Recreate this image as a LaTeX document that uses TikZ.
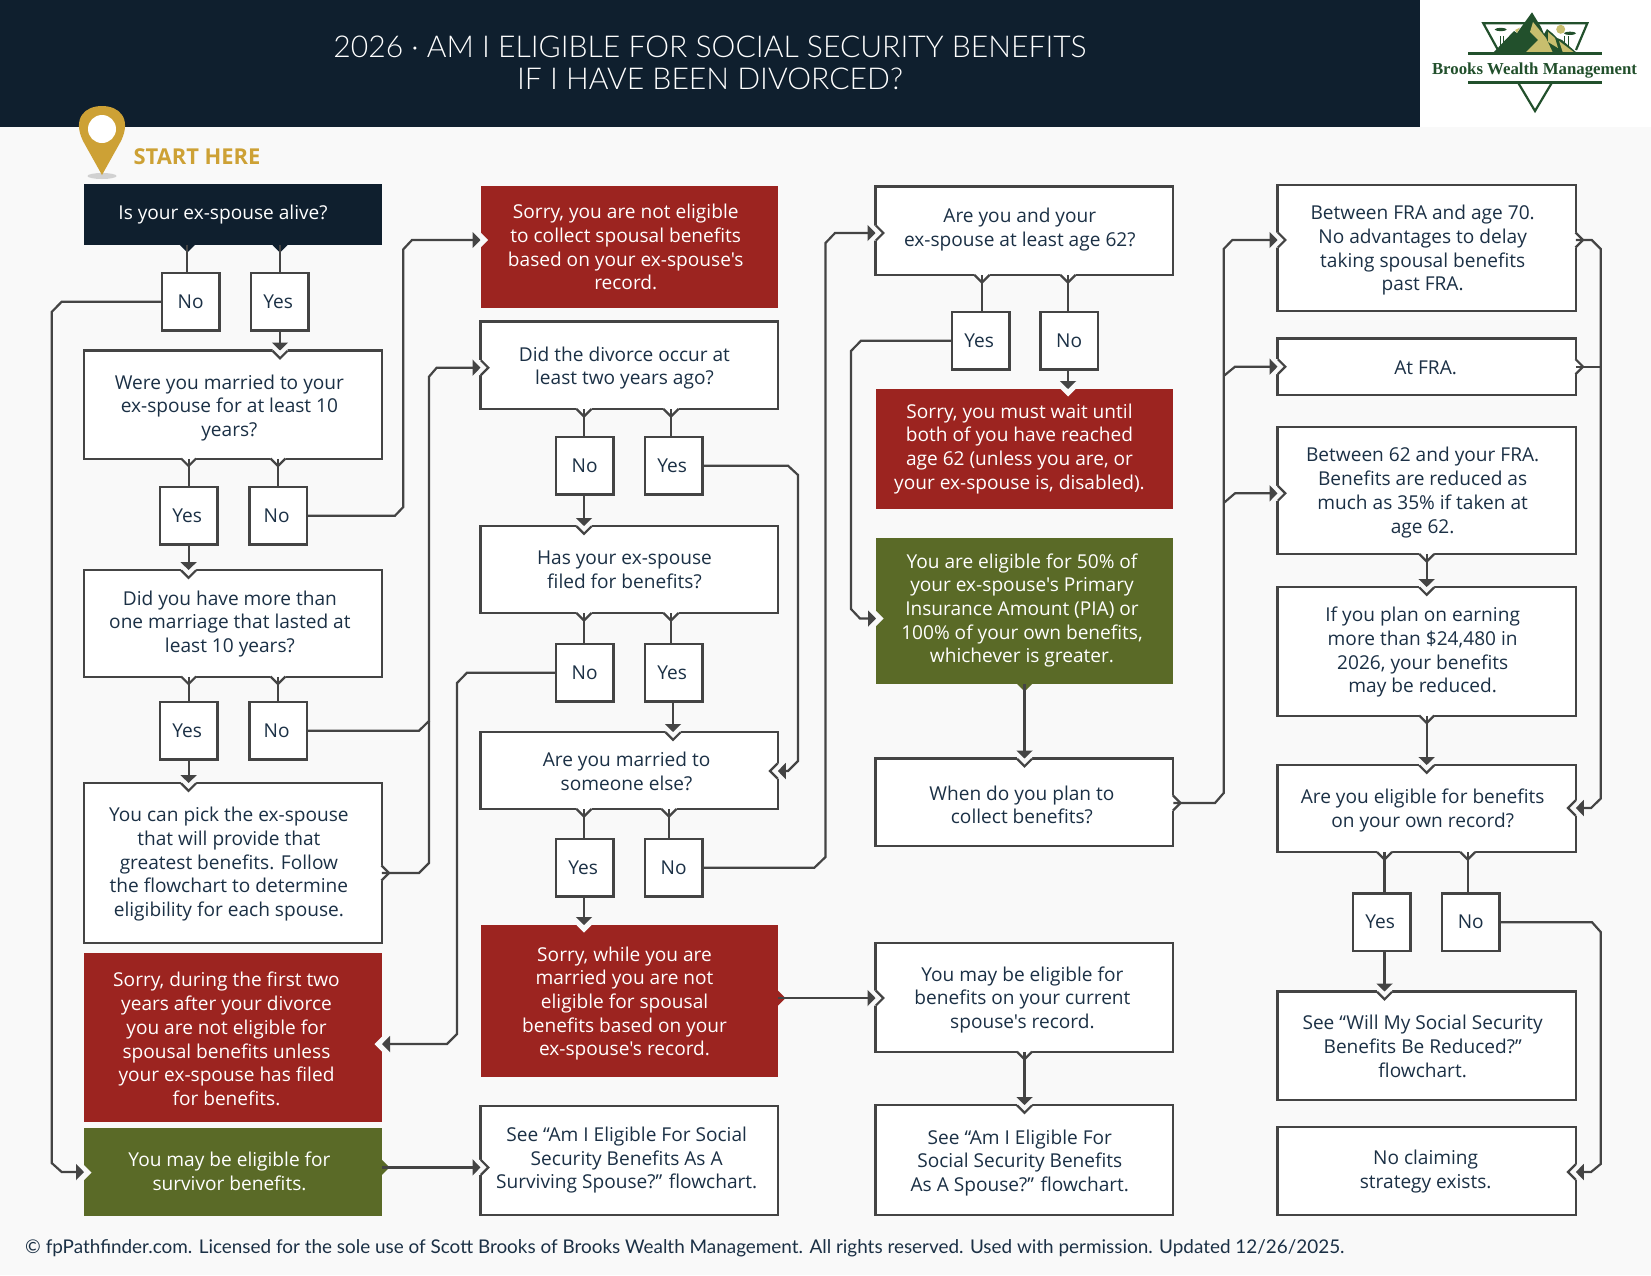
\documentclass[tikz,border=0pt]{standalone}
\usepackage{fontspec}
\usetikzlibrary{arrows.meta,calc}
\newfontfamily\bodyfont{Open Sans}
\newfontfamily\titlefont{Lato Light}
\newfontfamily\footfont{Lato}
\newfontfamily\logofont{Liberation Serif}
\definecolor{navy}{HTML}{0F1F2E}
\definecolor{pagebg}{HTML}{F9F9F9}
\definecolor{brick}{HTML}{9C2420}
\definecolor{olive}{HTML}{5A6A27}
\definecolor{gold}{HTML}{CDA135}
\definecolor{edge}{HTML}{444444}
\definecolor{ink}{HTML}{1B3045}
\definecolor{pine}{HTML}{22502C}
\definecolor{sand}{HTML}{C8BE6E}
\tikzset{
 x=1pt,y=-1pt,
 base/.style={rectangle,outer sep=0pt,inner sep=0pt,font=\bodyfont\fontsize{19.1}{23.7}\selectfont},
 plainbox/.style={base,draw=edge,line width=2.2pt,fill=white,text=ink},
 darkbox/.style={base,fill=navy,text=white},
 redbox/.style={base,fill=brick,text=white},
 greenbox/.style={base,fill=olive,text=white},
 conn/.style={draw=edge,line width=2.2pt},
 arr/.style={conn,-{Triangle[length=8pt,width=16pt]}},
 thick conn/.style={line width=3.2pt},
}
\newcommand\bx[9]{%
 \pgfmathsetmacro\bxw{#5-#3}\pgfmathsetmacro\bxh{#6-#4}%
 \pgfmathsetmacro\bxcx{(#3+#5)/2}\pgfmathsetmacro\bxcy{(#4+#6)/2}%
 \pgfmathsetlengthmacro\bxk{2*(#7)}\pgfmathsetlengthmacro\bxr{-(#8)-7}%
 \node[#2,minimum width=\bxw pt,minimum height=\bxh pt] (#1) at (\bxcx,\bxcy)
  {\smash{\raisebox{\bxr}{\makebox[0pt]{\kern\bxk\begin{tabular}{@{}c@{}}#9\end{tabular}}}}};}
\newcommand\ans[5]{\bx{#1}{plainbox}{#2+1.2}{#3+1.2}{#2+56.2}{#3+56.2}{#4}{0}{#5}}
% plain box: inset a little so the stroke's outer edge falls on the measured edge
\newcommand\pb[8]{\bx{#1}{plainbox}{#2+.3}{#3+.3}{#4-1}{#5-1}{#6}{#7}{#8}}
\newcommand\nch[6]{%
 \fill[#5] ({#1+7.5*(#4)-1.6*(#3)},{#2+7.5*(#3)-1.6*(#4)}) -- ({#1+7.5*(#4)},{#2+7.5*(#3)}) -- ({#1+7.5*(#3)},{#2+7.5*(#4)}) -- ({#1-7.5*(#4)},{#2-7.5*(#3)}) -- ({#1-7.5*(#4)-1.6*(#3)},{#2-7.5*(#3)-1.6*(#4)}) -- cycle;
 \path[#6] ({#1+7.5*(#4)},{#2+7.5*(#3)}) -- ({#1+7.5*(#3)},{#2+7.5*(#4)}) -- ({#1-7.5*(#4)},{#2-7.5*(#3)});}
\newcommand\inW[4]{\nch{#1}{#2}{#3}{#4}{pagebg}{draw=edge,line width=2.2pt}}
\newcommand\ouW[4]{\nch{#1}{#2}{#3}{#4}{white}{draw=edge,line width=2.2pt}}
\newcommand\inF[4]{\nch{#1}{#2}{#3}{#4}{pagebg}{}}
\newcommand\ouF[5]{\nch{#1}{#2}{#3}{#4}{#5}{}}
\begin{document}
\begin{tikzpicture}
\useasboundingbox (0,0) rectangle (1651,1275);
\fill[pagebg] (0,0) rectangle (1651,1275);
\fill[navy] (0,0) rectangle (1420,127);
\fill[white] (1420,0) rectangle (1651,127);
\node[text=white,align=center,font=\titlefont\fontsize{30.1}{32}\selectfont] (title) at (710,63) {2026 · AM I ELIGIBLE FOR SOCIAL SECURITY BENEFITS\\IF I HAVE BEEN DIVORCED?};
% logo
\draw[pine,line width=2.2pt] (1498,50) -- (1483.3,23.3) -- (1587.3,23.3) -- (1576,50);
\fill[sand] (1560.7,29.3) circle (4.5);
\fill[pine] (1500.7,29.5) ellipse (6 and 1.6);
\fill[pine] (1570,33.3) ellipse (6 and 1.6);
\draw[pine,line width=1pt] (1500,36) -- (1500,46) (1503,36) -- (1503,46) (1564,36) -- (1564,46) (1568,36) -- (1568,46);
\fill[pine] (1493,53) -- (1514,31) -- (1517,33) -- (1532,12.3) -- (1541,27) -- (1544,34) -- (1547,29) -- (1552,33) -- (1557,38) -- (1562,40) -- (1577,53) -- cycle;
\fill[sand] (1533,22) -- (1546,38) -- (1553,53) -- (1525,53) -- (1535,43) -- (1538,40) -- (1530,32) -- cycle;
\fill[sand] (1548,32) -- (1555,38) -- (1558,48) -- (1548,42) -- cycle;
\fill[sand] (1559,41) -- (1575,53) -- (1563,53) -- cycle;
\fill[sand] (1515,30) -- (1520,27.5) -- (1517,33) -- cycle;
\draw[pine,line width=3pt] (1468,53.7) -- (1601.7,53.7);
\draw[pine,line width=3pt] (1468,82.7) -- (1601.7,82.7);
\draw[pine,line width=2.2pt] (1518.3,83) -- (1535,111) -- (1551.7,83);
\node[text=pine,font=\logofont\bfseries\fontsize{16.8}{18}\selectfont] (logotext) at (1534.5,70.5) {Brooks Wealth Management};
% pin
\fill[black!18] (102,176) ellipse (14.5 and 3);
\fill[gold] (102,175) -- (83,141) .. controls (72,118) and (85,106) .. (102,106) .. controls (119,106) and (132,118) .. (121,141) -- cycle;
\fill[white] (102,129) circle (14);
\node[text=gold,anchor=west,font=\bodyfont\fontsize{21.9}{24}\selectfont\bfseries] (start) at (130,157) {START HERE};

% column 1
\bx{a}{darkbox}{84}{184}{382}{245}{-10}{-1.5}{Is your ex-spouse alive?}
\ans{no1}{162}{273}{0}{No}
\ans{yes1}{251}{273}{-1.5}{Yes}
\pb{were}{84}{350.5}{382.5}{459.5}{-3.5}{1.7}{Were you married to your\\ex-spouse for at least 10\\years?}
\ans{yes2}{160}{487}{-1.5}{Yes}
\ans{no2}{249.5}{487}{-1.5}{No}
\pb{more}{84}{570}{382.5}{677.5}{-3}{-1}{Did you have more than\\one marriage that lasted at\\least 10 years?}
\ans{yes3}{160}{702}{-1.5}{Yes}
\ans{no3}{249.5}{702}{-1.5}{No}
\pb{pick}{84}{783}{382.5}{944}{-4}{-0.6}{You can pick the ex-spouse\\that will provide that\\greatest benefits. Follow\\the flowchart to determine\\eligibility for each spouse.}
\bx{sdur}{redbox}{84}{952.5}{382}{1122}{-6.5}{2.4}{Sorry, during the first two\\years after your divorce\\you are not eligible for\\spousal benefits unless\\your ex-spouse has filed\\for benefits.}
\bx{surv}{greenbox}{84}{1128}{382}{1216}{-3.5}{-0.4}{You may be eligible for\\survivor benefits.}
% column 2
\bx{s1}{redbox}{480.5}{186}{778}{308}{-3.5}{0.6}{Sorry, you are not eligible\\to collect spousal benefits\\based on your ex-spouse's\\record.}
\pb{div}{480.5}{321.5}{778.5}{410}{-4.7}{1}{Did the divorce occur at\\least two years ago?}
\ans{no4}{556}{437}{0}{No}
\ans{yes4}{645}{437}{-1.5}{Yes}
\pb{has}{480.5}{526}{778.5}{614}{-4.7}{0}{Has your ex-spouse\\filed for benefits?}
\ans{no5}{556}{644}{0}{No}
\ans{yes5}{645}{644}{-1.5}{Yes}
\pb{mar}{480.5}{732}{778.5}{810}{-2.6}{1}{Are you married to\\someone else?}
\ans{yes6}{556}{839}{-1.5}{Yes}
\ans{no6}{645}{839}{0}{No}
\bx{swh}{redbox}{480.5}{925}{778}{1077}{-4.7}{1}{Sorry, while you are\\married you are not\\eligible for spousal\\benefits based on your\\ex-spouse's record.}
\pb{ssur}{480.5}{1106}{778.5}{1216}{-2.5}{-2}{See “Am I Eligible For Social\\Security Benefits As A\\Surviving Spouse?” flowchart.}
% column 3
\pb{both}{875.5}{186.5}{1174}{276}{-4.6}{-3}{Are you and your\\ex-spouse at least age 62?}
\ans{yes7}{952}{312}{-1.5}{Yes}
\ans{no7}{1040.5}{312}{0}{No}
\bx{must}{redbox}{876}{389}{1173}{509}{-5}{-2}{Sorry, you must wait until\\both of you have reached\\age 62 (unless you are, or\\your ex-spouse is, disabled).}
\bx{fifty}{greenbox}{876}{538}{1173}{684}{-2.5}{-2}{You are eligible for 50\% of\\your ex-spouse's Primary\\Insurance Amount (PIA) or\\100\% of your own benefits,\\whichever is greater.}
\pb{when}{875.5}{758.5}{1174}{847}{-2.5}{3}{When do you plan to\\collect benefits?}
\pb{may}{875.5}{942.7}{1174}{1052.7}{-2}{1}{You may be eligible for\\benefits on your current\\spouse's record.}
\pb{ssp}{875.5}{1105}{1174}{1216}{-4.6}{1}{See “Am I Eligible For\\Social Security Benefits\\As A Spouse?” flowchart.}
% column 4
\pb{f70}{1277.5}{185}{1576.5}{312}{-4}{0.5}{Between FRA and age 70.\\No advantages to delay\\taking spousal benefits\\past FRA.}
\pb{fra}{1277.5}{338.5}{1576.5}{395.5}{-1}{1}{At FRA.}
\pb{f62}{1277.5}{427}{1576.5}{555}{-4}{0.3}{Between 62 and your FRA.\\Benefits are reduced as\\much as 35\% if taken at\\age 62.}
\pb{earn}{1277.5}{587}{1576.5}{716.5}{-4}{-0.6}{If you plan on earning\\more than \$24,480 in\\2026, your benefits\\may be reduced.}
\pb{own}{1277.5}{765}{1576.5}{853}{-4}{0}{Are you eligible for benefits\\on your own record?}
\ans{yes8}{1353}{893.5}{-1.5}{Yes}
\ans{no8}{1442}{893.5}{0}{No}
\pb{will}{1277.5}{991.5}{1576.5}{1101}{-4}{1}{See “Will My Social Security\\Benefits Be Reduced?”\\flowchart.}
\pb{none}{1277.5}{1127}{1576.5}{1216}{-1}{-1.5}{No claiming\\strategy exists.}
% notches
\ouF{187.3}{245}{0}{1}{navy}\ouF{280}{245}{0}{1}{navy}
\inW{280}{350.8}{0}{1}\ouW{188.6}{458.5}{0}{1}\ouW{278}{458.5}{0}{1}
\inW{188.6}{570.3}{0}{1}\ouW{188.6}{676.5}{0}{1}\ouW{278}{676.5}{0}{1}
\inW{188.6}{783.3}{0}{1}\ouW{381.5}{873}{1}{0}
\inF{382}{1044}{-1}{0}\inF{84}{1172.7}{1}{0}\ouF{382}{1167.4}{1}{0}{olive}
\inF{480.5}{240}{1}{0}\inW{480.8}{367.7}{1}{0}\ouW{584}{409}{0}{1}\ouW{671}{409}{0}{1}
\inW{584}{526.3}{0}{1}\ouW{584}{613}{0}{1}\ouW{671}{613}{0}{1}
\inW{673}{732.3}{0}{1}\inW{777.5}{771}{-1}{0}\ouW{584}{809}{0}{1}\ouW{669}{809}{0}{1}
\inF{584}{925}{0}{1}\ouF{778}{998}{1}{0}{brick}\inW{480.8}{1167.4}{1}{0}
\inW{875.8}{233}{1}{0}\ouW{982}{275}{0}{1}\ouW{1068}{275}{0}{1}
\inF{1068}{389}{0}{1}\inF{876}{618.5}{1}{0}\ouF{1024.5}{684}{0}{1}{olive}
\inW{1024.5}{758.8}{0}{1}\ouW{1173}{803}{1}{0}\inW{875.8}{998}{1}{0}
\ouW{1024.5}{1051.7}{0}{1}\inW{1024.5}{1105.3}{0}{1}
\inW{1277.8}{240}{1}{0}\ouW{1575.5}{240}{1}{0}
\inW{1277.8}{366.7}{1}{0}\ouW{1575.5}{366.7}{1}{0}
\inW{1277.8}{493.3}{1}{0}\ouW{1426.7}{554}{0}{1}
\inW{1426.7}{587.3}{0}{1}\ouW{1426.7}{715.5}{0}{1}
\inW{1426.7}{765.3}{0}{1}\inW{1575.5}{808}{-1}{0}
\ouW{1384.5}{852}{0}{1}\ouW{1467.7}{852}{0}{1}
\inW{1384.5}{991.8}{0}{1}\inW{1575.5}{1172}{-1}{0}
% connectors
\draw[conn] (187.3,0|-a.south) -- (187.3,0|-no1.north);
\draw[conn] (280,0|-a.south) -- (280,0|-yes1.north);
\draw[arr] (280,0|-yes1.south) -- (280,0|-were.north);
\draw[arr] (no1.west) -- (61.7,0|-no1.west) -- (51.7,312) -- (51.7,1163) -- (61.7,0|-surv.west) -- (surv.west);
\draw[conn] (188.6,0|-were.south) -- (188.6,0|-yes2.north);
\draw[conn] (278,0|-were.south) -- (278,0|-no2.north);
\draw[arr] (188.6,0|-yes2.south) -- (188.6,0|-more.north);
\draw[arr] (no2.east) -- (395,0|-no2.east) -- (403.3,507) -- (403.3,249.3) -- (412,240) -- (s1.west|-0,240);
\draw[conn] (188.6,0|-more.south) -- (188.6,0|-yes3.north);
\draw[conn] (278,0|-more.south) -- (278,0|-no3.north);
\draw[arr] (188.6,0|-yes3.south) -- (188.6,0|-pick.north);
\draw[arr] (no3.east) -- (419,0|-no3.east) -- (429,721) -- (429,376.7) -- (436.7,367.7) -- (div.west|-0,367.7);
\draw[conn] (pick.east|-0,873) -- (419,873) -- (429,863) -- (429,721);
\draw[conn] (584,0|-div.south) -- (584,0|-no4.north);
\draw[conn] (671,0|-div.south) -- (671,0|-yes4.north);
\draw[arr] (584,0|-no4.south) -- (584,0|-has.north);
\draw[arr] (yes4.east) -- (788,0|-yes4.east) -- (798,475) -- (798,761) -- (788,771) -- (mar.east|-0,771);
\draw[conn] (584,0|-has.south) -- (584,0|-no5.north);
\draw[conn] (671,0|-has.south) -- (671,0|-yes5.north);
\draw[arr] (673,0|-yes5.south) -- (673,0|-mar.north);
\draw[arr] (no5.west) -- (467,0|-no5.west) -- (457,683) -- (457,1034) -- (447,1044) -- (sdur.east|-0,1044);
\draw[conn] (584,0|-mar.south) -- (584,0|-yes6.north);
\draw[conn] (669,0|-mar.south) -- (669,0|-no6.north);
\draw[arr] (584,0|-yes6.south) -- (584,0|-swh.north);
\draw[arr] (no6.east) -- (814.4,0|-no6.east) -- (825.5,857) -- (825.5,243) -- (835,233) -- (both.west|-0,233);
\draw[arr] (surv.east|-0,1167.4) -- (ssur.west|-0,1167.4);
\draw[arr] (swh.east|-0,998) -- (may.west|-0,998);
\draw[conn] (982,0|-both.south) -- (982,0|-yes7.north);
\draw[conn] (1068,0|-both.south) -- (1068,0|-no7.north);
\draw[arr] (1068,0|-no7.south) -- (1068,0|-must.north);
\draw[arr] (yes7.west) -- (861,0|-yes7.west) -- (851,351) -- (851,609) -- (860,618.5) -- (fifty.west|-0,618.5);
\draw[arr,thick conn] (1024.5,0|-fifty.south) -- (1024.5,0|-when.north);
\draw[arr,thick conn] (1024.5,0|-may.south) -- (1024.5,0|-ssp.north);
\draw[arr] (when.east|-0,803) -- (1215,803) -- (1223.7,793) -- (1223.7,249) -- (1232.3,240) -- (f70.west|-0,240);
\draw[arr] (1223.7,376) -- (1235,366.7) -- (fra.west|-0,366.7);
\draw[arr] (1223.7,503) -- (1235,493.3) -- (f62.west|-0,493.3);
\draw[arr] (f70.east|-0,240) -- (1591.7,240) -- (1600.7,249) -- (1600.7,798.6) -- (1591,808) -- (own.east|-0,808);
\draw[conn] (fra.east|-0,366.7) -- (1600.7,366.7);
\draw[arr] (1426.7,0|-f62.south) -- (1426.7,0|-earn.north);
\draw[arr] (1426.7,0|-earn.south) -- (1426.7,0|-own.north);
\draw[conn,thick conn] (1384.5,0|-own.south) -- (1384.5,0|-yes8.north);
\draw[conn] (1467.7,0|-own.south) -- (1467.7,0|-no8.north);
\draw[arr,thick conn] (1384.5,0|-yes8.south) -- (1384.5,0|-will.north);
\draw[arr] (no8.east) -- (1592,0|-no8.east) -- (1600.7,932) -- (1600.7,1164) -- (1591,1172) -- (none.east|-0,1172);
% footer
\node[text=ink,anchor=west,inner sep=0pt,font=\footfont\fontsize{18.9}{20}\selectfont] (foot) at (25,1248) {© fpPathfinder.com. Licensed for the sole use of Scott Brooks of Brooks Wealth Management. All rights reserved. Used with permission. Updated 12/26/2025.};
\end{tikzpicture}
\end{document}
